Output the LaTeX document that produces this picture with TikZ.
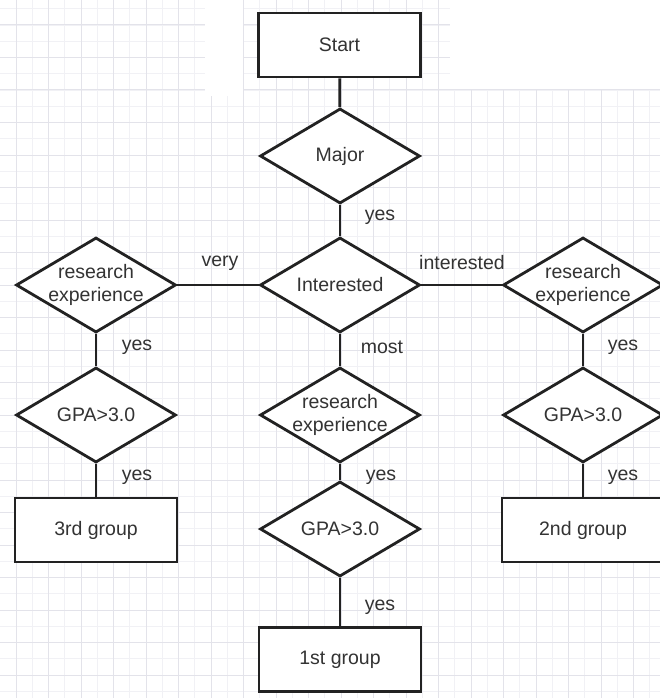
\documentclass[tikz,border=0pt]{standalone}
\usepackage{fontspec}
\setmainfont{Liberation Sans}
\usetikzlibrary{shapes.geometric}
\definecolor{gmajor}{HTML}{E3E3EA}
\definecolor{gminor}{HTML}{F1F1F5}
\definecolor{ink}{HTML}{222222}
\definecolor{txt}{HTML}{333333}
\tikzset{
  box/.style={draw=ink, line width=2.8pt, fill=white, rectangle, minimum width=162pt, minimum height=64pt, inner sep=0pt, font=\fontsize{19.5}{23}\selectfont, text=txt},
  dia/.style={draw=ink, line width=2.8pt, fill=white, diamond, minimum width=160pt, minimum height=95pt, inner sep=0pt},
  dtext/.style={font=\fontsize{19.5}{23}\selectfont, text=txt, align=center, inner sep=0pt},
  conn/.style={draw=ink, line width=2.8pt},
  lbl/.style={font=\fontsize{19.5}{23}\selectfont, text=txt, inner sep=0pt}
}
\begin{document}
\begin{tikzpicture}[x=1pt,y=-1pt]
\useasboundingbox (0,0) rectangle (660,698);
\clip (0,0) rectangle (660,698);
% grid
\foreach \i in {0,...,42} {
  \draw[gminor, line width=0.8pt] ({16+16.25*\i-16.25},0) -- ++(0,698);
  \draw[gminor, line width=0.8pt] (0,{25+16.25*\i-16.25}) -- ++(660,0);
}
\foreach \i in {0,...,20} {
  \draw[gmajor, line width=1pt] ({16+32.5*\i},0) -- ++(0,698);
  \draw[gmajor, line width=1pt] (0,{25+32.5*\i}) -- ++(660,0);
}
\fill[white] (205,0) rectangle (243,96);
\fill[white] (450,0) rectangle (660,89);

% nodes
\node[box] (start) at (339.5,45) {Start};
\node[dia, label={[dtext]center:Major}] (major) at (340,156) {};
\node[dia, label={[dtext]center:Interested}] (int) at (340,285) {};
\node[dia, label={[dtext]center:research\\experience}] (reL) at (96,285) {};
\node[dia, label={[dtext]center:research\\experience}] (reR) at (583,285) {};
\node[dia, label={[dtext]center:research\\experience}] (reC) at (340,415) {};
\node[dia, label={[dtext]center:GPA>3.0}] (gpaL) at (96,415) {};
\node[dia, label={[dtext]center:GPA>3.0}] (gpaR) at (583,415) {};
\node[dia, label={[dtext]center:GPA>3.0}] (gpaC) at (340,529) {};
\node[box] (g3) at (96,530) {3rd group};
\node[box] (g2) at (583,530) {2nd group};
\node[box] (g1) at (340,659.5) {1st group};

% connectors
\draw[conn] (start) -- (major);
\draw[conn] (major) -- (int);
\draw[conn] (int) -- (reL);
\draw[conn] (int) -- (reR);
\draw[conn] (int) -- (reC);
\draw[conn] (reL) -- (gpaL);
\draw[conn] (gpaL) -- (g3);
\draw[conn] (reR) -- (gpaR);
\draw[conn] (gpaR) -- (g2);
\draw[conn] (reC) -- (gpaC);
\draw[conn] (gpaC) -- (g1);

% labels
\node[lbl] (l1) at (380,217) {yes};
\node[lbl] (l2) at (220,263) {very};
\node[lbl] (l3) at (462,263) {interested};
\node[lbl] (l4) at (137,347) {yes};
\node[lbl] (l5) at (382,347) {most};
\node[lbl] (l6) at (623,347) {yes};
\node[lbl] (l7) at (137,477) {yes};
\node[lbl] (l8) at (381,477) {yes};
\node[lbl] (l9) at (623,477) {yes};
\node[lbl] (l10) at (380,607) {yes};
\end{tikzpicture}
\end{document}
